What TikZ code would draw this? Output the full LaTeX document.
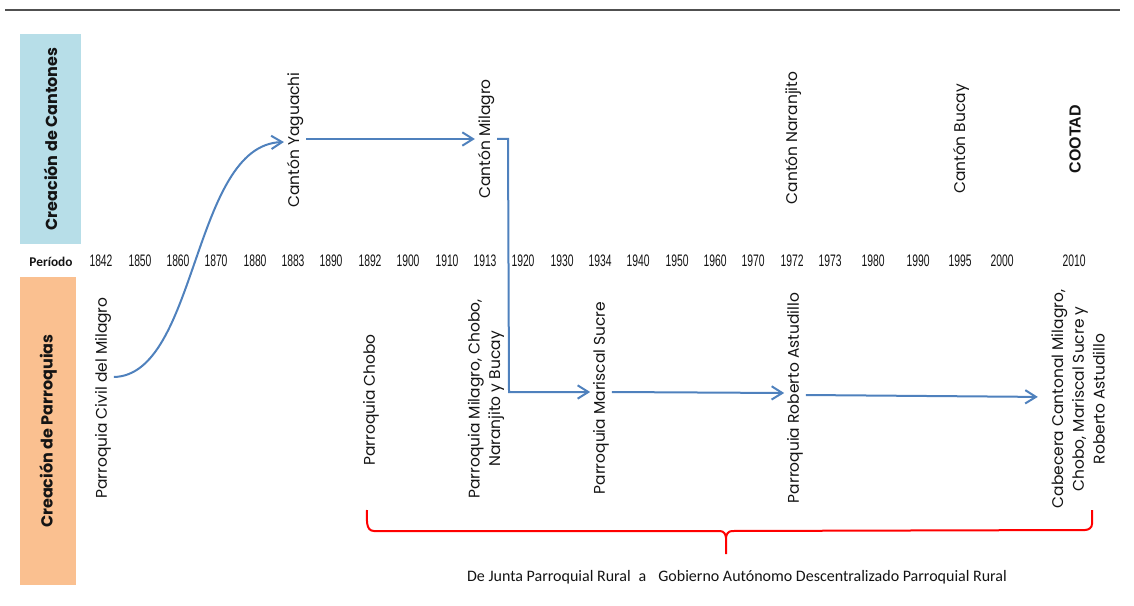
\documentclass[tikz,border=0pt]{standalone}
\usepackage{fontspec}
\setmainfont{Carlito}
\newfontfamily\labelfont{Poppins}
\newfontfamily\yearfont[FakeStretch=0.62]{Liberation Sans}
\newfontfamily\cootadfont{Liberation Sans}
\usetikzlibrary{arrows.meta, calc}
\definecolor{cantonBlue}{RGB}{183,222,232}
\definecolor{parroquiaOrange}{RGB}{250,192,144}
\definecolor{flowBlue}{RGB}{79,129,189}
\definecolor{rulerGray}{RGB}{80,80,80}
\definecolor{darkText}{RGB}{20,20,20}
\tikzset{
    headbox/.style={
        rectangle,
        rotate=90,
        inner sep=0pt,
        text=darkText,
        font=\labelfont\bfseries\fontsize{12}{15}\selectfont
    },
    eventlabel/.style={
        rotate=90,
        align=center,
        inner sep=2pt,
        text=darkText,
        font=\labelfont\fontsize{11.6}{15.5}\selectfont
    },
    yearlabel/.style={inner sep=1pt, text=darkText, font=\yearfont\fontsize{12.5}{14}\selectfont},
    flowarrow/.style={-{Straight Barb[length=8pt,width=10pt]}, line width=1.5pt, draw=flowBlue},
    bracket/.style={draw=red, line width=1.5pt},
    ruler/.style={draw=rulerGray, line width=1.5pt}
}

\begin{document}
\begin{tikzpicture}[x=0.75pt, y=-0.75pt]
    \useasboundingbox (0,0) rectangle (1134,606);
    \coordinate (rulerL) at (5,10);
    \coordinate (rulerR) at (1120,10);
    \draw[ruler] (rulerL) -- (rulerR);
    % row headers
    \node[headbox, fill=cantonBlue, minimum width=157.5pt, minimum height=45.75pt] (cantones) at (50.5,139) {Creación de Cantones};
    \node[headbox, fill=parroquiaOrange, minimum width=231pt, minimum height=42pt] (parroquias) at (48,431) {Creación de Parroquias\hspace{14pt}};
    \node[font=\bfseries\fontsize{10}{12}\selectfont, text=darkText] (periodo) at (51,262) {Período};
    % years
    \foreach \x/\yr in {101/1842, 140/1850, 178/1860, 216/1870, 255/1880, 293/1883, 331/1890, 370/1892,
                        408/1900, 447/1910, 485/1913, 523/1920, 562/1930, 600/1934, 638/1940, 677/1950,
                        715/1960, 753/1970, 792/1972, 830/1973, 873/1980, 918/1990, 960/1995, 1002/2000, 1074/2010}
        \node[yearlabel] (yr\yr) at (\x,261) {\yr};
    % cantones
    \node[eventlabel] (yaguachi) at (295,140) {Cantón Yaguachi};
    \node[eventlabel] (milagro) at (486,139) {Cantón Milagro};
    \node[eventlabel] (naranjito) at (793,138) {Cantón Naranjito};
    \node[eventlabel] (bucay) at (961,139) {Cantón Bucay};
    \node[eventlabel, font=\cootadfont\bfseries\fontsize{12}{14}\selectfont] (cootad) at (1075,139) {COOTAD};
    % parroquias
    \node[eventlabel] (pcivil) at (103,398) {Parroquia Civil del Milagro};
    \node[eventlabel] (pchobo) at (371,400) {Parroquia Chobo};
    \node[eventlabel] (pvarias) at (486,399) {Parroquia Milagro, Chobo,\\Naranjito y Bucay};
    \node[eventlabel] (psucre) at (601,398) {Parroquia Mariscal Sucre};
    \node[eventlabel] (pastudillo) at (795,398) {Parroquia Roberto Astudillo};
    \node[eventlabel] (cabecera) at (1078,399) {Cabecera Cantonal Milagro,\\Chobo, Mariscal Sucre y\\Roberto Astudillo};
    % flows
    \draw[flowarrow] (pcivil.south |- 0,377) .. controls (198,375) and (192,145) .. (yaguachi.north |- 0,142);
    \draw[flowarrow] (yaguachi.south |- 0,139) -- (milagro.north |- 0,139);
    \draw[flowarrow] (milagro.south |- 0,139) -- (508,139) -- (509,392) -- (psucre.north |- 0,392);
    \draw[flowarrow] (psucre.south |- 0,392) -- (pastudillo.north |- 0,393);
    \draw[flowarrow, shorten >=8pt] (pastudillo.south |- 0,395) -- (cabecera.north |- 0,397);
    % bracket
    \draw[bracket] (367,510) to[out=270, in=180] (374,531) -- (720,531)
        to[out=0, in=90] (726,538) -- (726,554) -- (726,538)
        to[out=90, in=180] (732,531) -- (1085,530) to[out=0, in=270] (1092,524) -- (1092,510);
    \node[font=\fontsize{12}{14}\selectfont, text=darkText] (transicion) at (737,577)
        {De Junta Parroquial Rural\hspace{6pt}a\hspace{9pt}Gobierno Autónomo Descentralizado Parroquial Rural};
\end{tikzpicture}
\end{document}
